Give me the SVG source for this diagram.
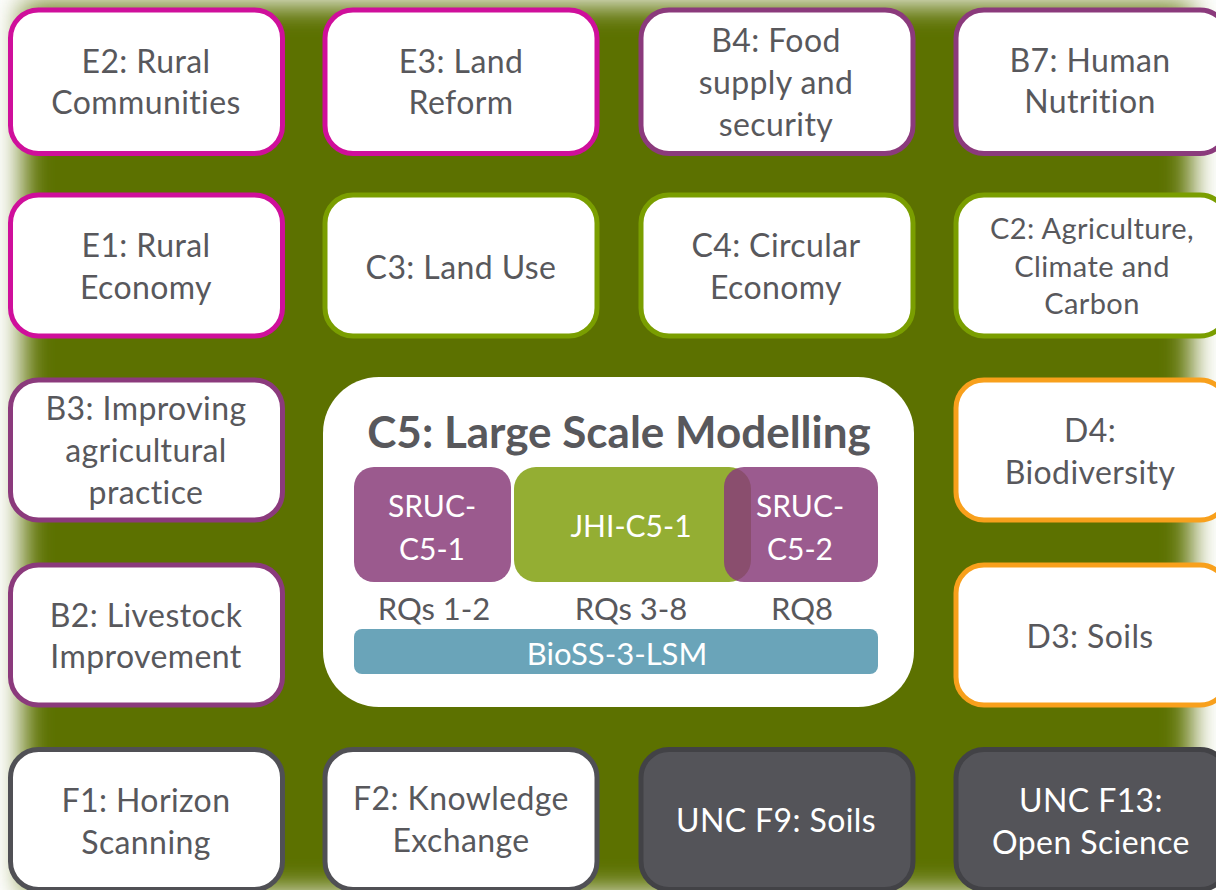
<svg xmlns="http://www.w3.org/2000/svg" width="1216" height="890" viewBox="0 0 1216 890">
<defs>
<filter id="soft" x="-10%" y="-10%" width="120%" height="120%"><feGaussianBlur stdDeviation="14"/></filter>
<style>
.n rect{fill:#fff;stroke-width:5}
.t{font-family:Lato,"Open Sans",sans-serif;font-size:32px;letter-spacing:0.4px;fill:#58585c;text-anchor:middle}
.s{font-size:30px;letter-spacing:0}
.w{fill:#fff}
.mag rect{stroke:#cf0f9b}
.pur rect{stroke:#8b3a7c}
.grn rect{stroke:#7a9e00}
.org rect{stroke:#f8a01c}
.gry rect{stroke:#505055}
.drk rect{fill:#545459;stroke:#424246}
</style>
</defs>
<rect width="1216" height="890" fill="#fff"/>
<rect x="22" y="4" width="1170" height="888" fill="#5b7103" filter="url(#soft)"/>
<g id="E2" class="n mag"><rect x="10.5" y="10" width="272" height="143.5" rx="28"/><text class="t" x="146" y="73">E2: Rural</text><text class="t" x="146" y="114">Communities</text></g>
<g id="E3" class="n mag"><rect x="325" y="10" width="272" height="143.5" rx="28"/><text class="t" x="461" y="73">E3: Land</text><text class="t" x="461" y="114">Reform</text></g>
<g id="B4" class="n pur"><rect x="641" y="10" width="272" height="143.5" rx="28"/><text class="t" x="776" y="52">B4: Food</text><text class="t" x="776" y="94">supply and</text><text class="t" x="776" y="136">security</text></g>
<g id="B7" class="n pur"><rect x="956" y="10" width="272" height="143.5" rx="28"/><text class="t" x="1090" y="72">B7: Human</text><text class="t" x="1090" y="113">Nutrition</text></g>
<g id="E1" class="n mag"><rect x="10.5" y="195" width="272" height="141" rx="28"/><text class="t" x="146" y="257">E1: Rural</text><text class="t" x="146" y="299">Economy</text></g>
<g id="C3" class="n grn"><rect x="325" y="195" width="272" height="141" rx="28"/><text class="t" x="461" y="279">C3: Land Use</text></g>
<g id="C4" class="n grn"><rect x="641" y="195" width="272" height="141" rx="28"/><text class="t" x="776" y="257">C4: Circular</text><text class="t" x="776" y="299">Economy</text></g>
<g id="C2" class="n grn"><rect x="956" y="195" width="272" height="141" rx="28"/><text class="t" x="1092" y="239" style="font-size:29px">C2: Agriculture,</text><text class="t" x="1092" y="277" style="font-size:29px">Climate and</text><text class="t" x="1092" y="314" style="font-size:29px">Carbon</text></g>
<g id="B3" class="n pur"><rect x="10.5" y="380" width="272" height="140" rx="28"/><text class="t" x="146" y="420">B3: Improving</text><text class="t" x="146" y="462">agricultural</text><text class="t" x="146" y="504">practice</text></g>
<g id="D4" class="n org"><rect x="956" y="380" width="272" height="140" rx="28"/><text class="t" x="1090" y="442">D4:</text><text class="t" x="1090" y="484">Biodiversity</text></g>
<g id="B2" class="n pur"><rect x="10.5" y="565" width="272" height="140" rx="28"/><text class="t" x="146" y="627">B2: Livestock</text><text class="t" x="146" y="668">Improvement</text></g>
<g id="D3" class="n org"><rect x="956" y="565" width="272" height="140" rx="28"/><text class="t" x="1090" y="648">D3: Soils</text></g>
<g id="F1" class="n gry"><rect x="10.5" y="749.5" width="272" height="140" rx="28"/><text class="t" x="146" y="812">F1: Horizon</text><text class="t" x="146" y="854">Scanning</text></g>
<g id="F2" class="n gry"><rect x="325" y="749.5" width="272" height="140" rx="28"/><text class="t" x="461" y="810">F2: Knowledge</text><text class="t" x="461" y="852">Exchange</text></g>
<g id="F9" class="n drk"><rect x="641" y="749.5" width="272" height="140" rx="28"/><text class="t w" x="776" y="832">UNC F9: Soils</text></g>
<g id="F13" class="n drk"><rect x="956" y="749.5" width="272" height="140" rx="28"/><text class="t w" x="1091" y="812">UNC F13:</text><text class="t w" x="1091" y="854">Open Science</text></g>
<g id="C5">
<rect x="323" y="377" width="591" height="330" rx="56" fill="#fff"/>
<text class="t" x="619" y="448" style="font-size:44px;font-weight:bold;letter-spacing:0">C5: Large Scale Modelling</text>
<rect x="354" y="467" width="157" height="115" rx="20" fill="#9b5a8e"/>
<rect x="514" y="467" width="237" height="115" rx="22" fill="#94ae33"/>
<rect x="724" y="467" width="154" height="115" rx="20" fill="#883b79" fill-opacity="0.84"/>
<text class="t s w" x="432" y="517">SRUC-</text><text class="t s w" x="432" y="560">C5-1</text>
<text class="t s w" x="631" y="537">JHI-C5-1</text>
<text class="t s w" x="800" y="517">SRUC-</text><text class="t s w" x="800" y="560">C5-2</text>
<text class="t" x="434" y="620" style="font-size:31px;letter-spacing:0">RQs 1-2</text>
<text class="t" x="631" y="620" style="font-size:31px;letter-spacing:0">RQs 3-8</text>
<text class="t" x="802" y="620" style="font-size:31px;letter-spacing:0">RQ8</text>
<rect x="354" y="629" width="524" height="45" rx="8" fill="#6aa4b9"/>
<text class="t w" x="617" y="665" style="font-size:31px;letter-spacing:0">BioSS-3-LSM</text>
</g>
<g id="connectors"/>
</svg>
